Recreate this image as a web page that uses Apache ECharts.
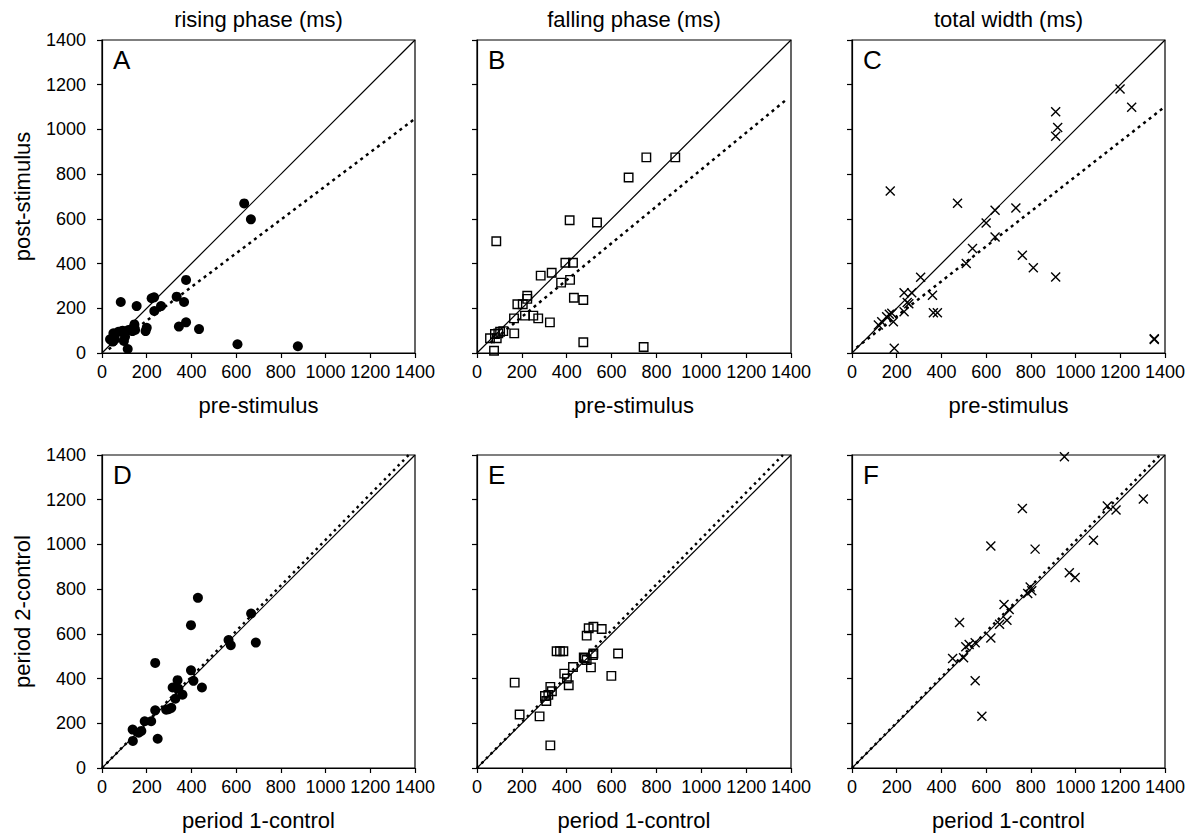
<!DOCTYPE html>
<html><head><meta charset="utf-8">
<script src="https://cdn.jsdelivr.net/npm/echarts@6/dist/echarts.min.js"></script>
<style>html,body{margin:0;padding:0;background:#fff}#c{width:1194px;height:833px}</style>
</head><body><div id="c"></div>
<script>
// ---------- data ----------
const tickValues = [0, 200, 400, 600, 800, 1000, 1200, 1400];
const panelLetters = ['A', 'B', 'C', 'D', 'E', 'F'];
const columnTitles = ['rising phase (ms)', 'falling phase (ms)', 'total width (ms)'];
const xNames = ['pre-stimulus', 'period 1-control'];
const yNames = ['post-stimulus', 'period 2-control'];
const identityLine = [[0, 0], [1400, 1400]];

const fitA = [[30, 17], [1400, 1048]];
const fitB = [[60, 46], [1373, 1128]];
const fitC = [[20, 24], [1400, 1102]];
const fitD = [[0, 0], [1372, 1400]];
const fitE = [[0, 0], [1364, 1400]];
const fitF = [[0, 0], [1378, 1400]];

const dataA = [[636,669],[666,598],[376,327],[84,228],[155,210],[222,245],[233,249],[234,188],[264,210],
  [334,252],[367,228],[344,118],[376,137],[434,107],[606,39],[876,30],[145,128],[148,103],[200,113],
  [195,98],[115,18],[51,88],[58,61],[48,51],[73,95],[92,100],[103,73],[118,103],[136,98],[36,61],[98,54]];

const dataB = [[755,875],[884,875],[676,785],[86,500],[413,594],[535,584],[394,404],[428,404],[284,346],
  [333,359],[375,315],[415,327],[432,247],[474,237],[224,256],[224,242],[180,218],[204,218],[165,155],
  [214,167],[251,167],[273,155],[325,137],[166,88],[117,98],[103,95],[95,88],[80,85],[58,66],[88,66],
  [76,10],[474,48],[743,27]];

const dataC = [[1199,1181],[1251,1099],[911,1079],[920,1009],[911,970],[171,725],[472,670],[640,639],
  [733,649],[600,582],[640,519],[539,467],[511,400],[762,437],[811,381],[911,340],[307,339],[360,258],
  [233,270],[267,270],[247,226],[254,220],[233,185],[364,180],[382,180],[178,178],[167,173],[155,162],
  [185,140],[133,140],[118,125],[189,21],[1352,64],[1352,60]];

const dataD = [[429,761],[398,639],[667,691],[688,561],[566,572],[576,549],[238,470],[398,437],[409,390],
  [447,360],[338,393],[316,360],[342,355],[360,328],[328,310],[287,261],[310,269],[298,263],[238,258],
  [191,209],[220,209],[137,172],[176,166],[164,158],[138,121],[249,131]];

const dataE = [[168,382],[190,239],[279,231],[327,101],[303,322],[309,300],[318,327],[327,363],[334,343],
  [355,522],[370,522],[385,522],[389,422],[401,400],[409,370],[428,452],[476,494],[481,491],[489,483],
  [489,592],[498,625],[519,632],[556,622],[517,505],[519,512],[508,450],[629,512],[599,412]];

const dataF = [[950,1392],[762,1161],[1303,1203],[1142,1172],[1181,1154],[621,993],[819,979],[1080,1019],
  [972,873],[998,852],[797,810],[804,793],[786,781],[680,731],[703,709],[693,661],[660,643],[621,582],
  [481,651],[450,490],[499,493],[509,542],[524,552],[551,560],[551,390],[581,231]];

// ---------- layout ----------
const FONT = "'Liberation Sans', Arial, sans-serif";
const colLeft = [102, 477, 852];
const colWidth = [313, 314, 313];
const rowTop = [40, 455];
const plotH = 313;

const panels = [
  { data: dataA, fit: fitA, kind: 'dot' },
  { data: dataB, fit: fitB, kind: 'square' },
  { data: dataC, fit: fitC, kind: 'cross' },
  { data: dataD, fit: fitD, kind: 'dot' },
  { data: dataE, fit: fitE, kind: 'square' },
  { data: dataF, fit: fitF, kind: 'cross' }
];

const grids = [], xAxes = [], yAxes = [], series = [], graphics = [];
const axMin = tickValues[0], axMax = tickValues[tickValues.length - 1], axInt = tickValues[1] - tickValues[0];
const fmt = v => String(v);

panels.forEach((p, i) => {
  const row = Math.floor(i / 3), col = i % 3;
  grids.push({
    left: colLeft[col], top: rowTop[row], width: colWidth[col], height: plotH,
    show: true, borderColor: '#000', borderWidth: 1.2, backgroundColor: 'transparent',
    containLabel: false
  });
  xAxes.push({
    gridIndex: i, type: 'value', min: axMin, max: axMax, interval: axInt,
    name: xNames[row], nameLocation: 'middle', nameGap: 41,
    nameTextStyle: { fontFamily: FONT, fontSize: 22, color: '#000' },
    axisLine: { show: true, onZero: false, lineStyle: { color: '#000', width: 1.2 } },
    axisTick: { show: true, length: 5, lineStyle: { color: '#000', width: 1.2 } },
    axisLabel: { formatter: fmt, fontFamily: FONT, fontSize: 18, color: '#000', margin: 10, showMinLabel: true, showMaxLabel: true, hideOverlap: false },
    splitLine: { show: false }
  });
  yAxes.push({
    gridIndex: i, type: 'value', min: axMin, max: axMax, interval: axInt,
    name: col === 0 ? yNames[row] : '', nameLocation: 'middle', nameGap: 69,
    nameTextStyle: { fontFamily: FONT, fontSize: 22, color: '#000' },
    axisLine: { show: true, onZero: false, lineStyle: { color: '#000', width: 1.2 } },
    axisTick: { show: true, length: 5, lineStyle: { color: '#000', width: 1.2 } },
    axisLabel: { show: col === 0, formatter: fmt, fontFamily: FONT, fontSize: 18, color: '#000', margin: 16, showMinLabel: true, showMaxLabel: true, hideOverlap: false },
    splitLine: { show: false }
  });
  // identity line
  series.push({
    type: 'line', xAxisIndex: i, yAxisIndex: i, data: identityLine, showSymbol: false, silent: true,
    lineStyle: { color: '#000', width: 1.2 }, z: 2
  });
  // regression line
  series.push({
    type: 'line', xAxisIndex: i, yAxisIndex: i, data: p.fit, showSymbol: false, silent: true,
    lineStyle: { color: '#000', width: 2.5, type: row === 0 ? [3, 4] : [2.5, 4] }, z: 2
  });
  // points
  let sym;
  if (p.kind === 'dot') {
    sym = { symbol: 'circle', symbolSize: 10, itemStyle: { color: '#000', opacity: 1 } };
  } else if (p.kind === 'square') {
    sym = { symbol: 'rect', symbolSize: 8.5, itemStyle: { color: 'rgba(0,0,0,0)', borderColor: '#000', borderWidth: 1.4, opacity: 1 } };
  } else {
    sym = { symbol: 'path://M0 0L10 10M10 0L0 10', symbolSize: 9, itemStyle: { color: 'rgba(0,0,0,0)', borderColor: '#000', borderWidth: 1.4, opacity: 1 } };
  }
  series.push(Object.assign({
    type: 'scatter', xAxisIndex: i, yAxisIndex: i, data: p.data, silent: true, z: 3
  }, sym));
  // panel letter
  graphics.push({
    type: 'text', x: colLeft[col] + 11, y: rowTop[row] + 7, silent: true,
    style: { text: panelLetters[i], font: '26px ' + FONT, fill: '#000', textAlign: 'left', textVerticalAlign: 'top' }
  });
});

columnTitles.forEach((t, col) => {
  graphics.push({
    type: 'text', x: colLeft[col] + colWidth[col] / 2, y: 19, silent: true,
    style: { text: t, font: '22px ' + FONT, fill: '#000', textAlign: 'center', textVerticalAlign: 'middle' }
  });
});

const chart = echarts.init(document.getElementById('c'), null, { renderer: 'svg' });
chart.setOption({
  animation: false,
  backgroundColor: '#fff',
  grid: grids, xAxis: xAxes, yAxis: yAxes, series: series, graphic: graphics
});
</script>
</body></html>
